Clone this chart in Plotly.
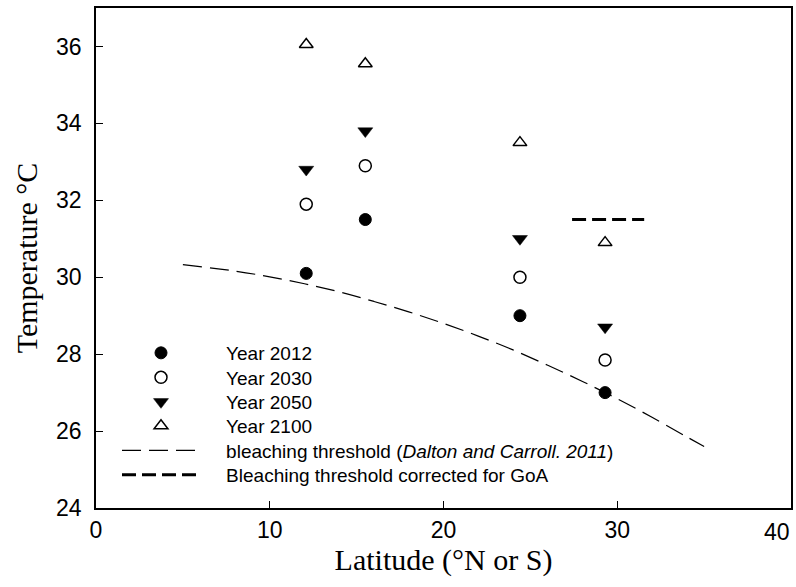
import plotly.graph_objects as go

# Data
latitude = [12.1, 15.5, 24.4, 29.3]
temp_2012 = [30.1, 31.5, 29.0, 27.0]
temp_2030 = [31.9, 32.9, 30.0, 27.85]
temp_2050 = [32.8, 33.8, 31.0, 28.7]
temp_2100 = [36.05, 35.55, 33.5, 30.9]

thresh_lat = [5, 8, 10, 12, 14, 16, 18, 20, 22, 24, 26, 28, 30, 32, 34, 35.0]
thresh_temp = [30.33, 30.16, 30.01, 29.83, 29.62, 29.37, 29.10, 28.80, 28.47, 28.11,
               27.71, 27.29, 26.84, 26.36, 25.85, 25.6]

goa_lat = [27.4, 31.55]
goa_temp = [31.5, 31.5]

x_ticks = [0, 10, 20, 30, 40]
x_ticklabels = ["0", "10", "20", "30", "40"]
y_ticks = [24, 26, 28, 30, 32, 34, 36]

series_names = ["Year 2012", "Year 2030", "Year 2050", "Year 2100",
                "bleaching threshold (<i>Dalton and Carroll. 2011</i>)",
                "Bleaching threshold corrected for GoA"]

pad = "\u00a0" * 4
legend_ids = ["legend", "legend2", "legend3", "legend4", "legend5", "legend6"]

fig = go.Figure()
fig.add_trace(go.Scatter(x=latitude, y=temp_2012, mode="markers", name=pad + series_names[0],
                         legend=legend_ids[0],
                         marker=dict(symbol="circle", size=12, color="black",
                                     line=dict(width=1, color="black"))))
fig.add_trace(go.Scatter(x=latitude, y=temp_2030, mode="markers", name=pad + series_names[1],
                         legend=legend_ids[1],
                         marker=dict(symbol="circle-open", size=12, color="black",
                                     line=dict(width=1.5, color="black"))))
fig.add_trace(go.Scatter(x=latitude, y=temp_2050, mode="markers", name=pad + series_names[2],
                         legend=legend_ids[2],
                         marker=dict(symbol="triangle-down", size=13, color="black",
                                     line=dict(width=0.5, color="black"))))
fig.add_trace(go.Scatter(x=latitude, y=temp_2100, mode="markers", name=pad + series_names[3],
                         legend=legend_ids[3],
                         marker=dict(symbol="triangle-up-open", size=12, color="black",
                                     line=dict(width=1.5, color="black"))))
fig.add_trace(go.Scatter(x=thresh_lat, y=thresh_temp, mode="lines", line_shape="spline",
                         name=pad + series_names[4], legend=legend_ids[4],
                         line=dict(color="black", width=1.2, dash="19px,8px")))
fig.add_trace(go.Scatter(x=goa_lat, y=goa_temp, mode="lines",
                         name=pad + series_names[5], legend=legend_ids[5],
                         line=dict(color="black", width=3, dash="14px,6px")))

tick_font = dict(family="Liberation Sans, Arial", size=23, color="black")
axis_common = dict(showline=True, linecolor="black", linewidth=1.5, mirror=True,
                   ticks="inside", ticklen=7, tickwidth=1.2, tickcolor="black",
                   showgrid=False, zeroline=False, automargin=False,
                   tickfont=tick_font)

# the last x tick label sits flush against the right edge of the frame (as in the
# reference), so it is drawn right-aligned at its tick instead of centred
fig.update_xaxes(range=[0, 40], tickvals=x_ticks,
                 ticktext=x_ticklabels[:-1] + [""], ticklabelstandoff=1,
                 title=dict(text="Latitude (°N or S)", standoff=6,
                            font=dict(family="Liberation Serif, Times New Roman", size=30, color="black")),
                 **axis_common)
fig.add_annotation(x=x_ticks[-1], y=0, xref="x", yref="paper", text=x_ticklabels[-1],
                   showarrow=False, xanchor="right", yanchor="top", yshift=-10,
                   font=tick_font, borderpad=0)

fig.update_yaxes(range=[24, 37], tickvals=y_ticks, ticklabelstandoff=8,
                 title=dict(text="Temperature °C", standoff=10,
                            font=dict(family="Liberation Serif, Times New Roman", size=30, color="black")),
                 **axis_common)

plot_top, plot_bottom, plot_left, plot_w = 8, 508, 96, 695
row_px = [353, 377.5, 402, 426, 450.5, 475]
leg_x = (117 - plot_left) / plot_w
legend_layout = {}
for lid, py in zip(legend_ids, row_px):
    legend_layout[lid] = dict(
        x=leg_x, y=(plot_bottom - py) / (plot_bottom - plot_top),
        xanchor="left", yanchor="middle",
        bgcolor="rgba(0,0,0,0)", borderwidth=0, itemwidth=78,
        font=dict(family="Liberation Sans, Arial", size=19, color="black"),
    )

fig.update_layout(
    width=796, height=587,
    margin=dict(l=96, r=5, t=8, b=79, autoexpand=False),
    paper_bgcolor="white", plot_bgcolor="white",
    showlegend=True,
    **legend_layout,
)

fig.write_html("out.html")
